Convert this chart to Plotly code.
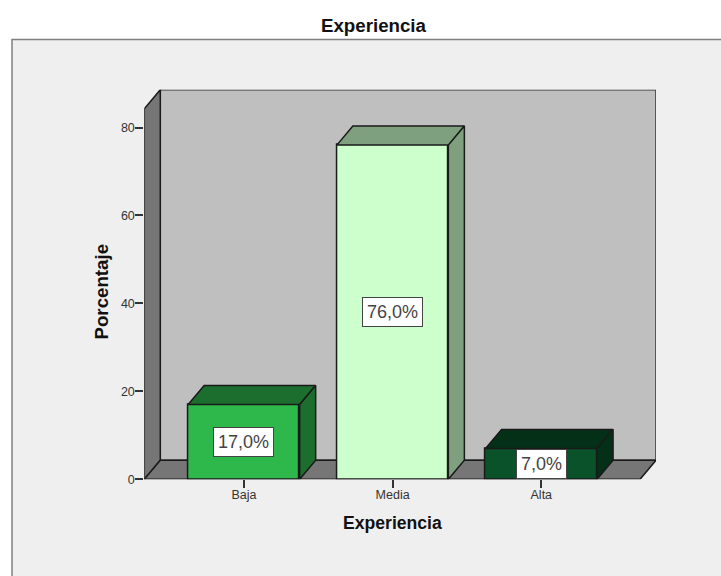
import plotly.graph_objects as go

categories = ["Baja", "Media", "Alta"]
percentages = [17.0, 76.0, 7.0]
value_labels = ["17,0%", "76,0%", "7,0%"]
y_ticks = [0, 20, 40, 60, 80]

front_colors = ["#2EB84C", "#CCFFCC", "#0A5229"]
shade_colors = ["#1B6E2D", "#7FA07F", "#053018"]
LINE = "#1a1a1a"
W = 721
H = 576
DRAW_H = 568          # height of the drawing area actually used

def fx(p):
    return p / W

def fy(p):
    return 1 - p / DRAW_H

# pixel geometry of the plot box
PX0, PX1, PY0, PY1 = 144.3, 656.0, 478.5, 89.5
CAT_SPACING = 148.7
PX_PER_UNIT = 4.39
DX = 16 / CAT_SPACING      # depth in category units
DY = 19 / PX_PER_UNIT      # depth in value units
BAR = 0.75
XMIN = (PX0 - 243.9) / CAT_SPACING
XFRONT = XMIN + (640 - PX0) / CAT_SPACING
XMAX = XFRONT + DX
YTOP = (PY0 - PY1) / PX_PER_UNIT
YFRONT = YTOP - DY
xs = list(range(len(categories)))

fig = go.Figure()

# bar front faces
fig.add_trace(go.Bar(
    x=xs, y=percentages, width=BAR,
    marker=dict(color=front_colors, line=dict(color=LINE, width=1.5)),
    hoverinfo="skip", showlegend=False,
))

# bar top and side faces
for x, v, c in zip(xs, percentages, shade_colors):
    l, r = x - BAR / 2, x + BAR / 2
    fig.add_trace(go.Scatter(
        x=[l, l + DX, r + DX, r, l], y=[v, v + DY, v + DY, v, v],
        mode="lines", fill="toself", fillcolor=c, line=dict(color=LINE, width=1.5),
        hoverinfo="skip", showlegend=False,
    ))
    fig.add_trace(go.Scatter(
        x=[r, r + DX, r + DX, r, r], y=[v, v + DY, DY, 0, v],
        mode="lines", fill="toself", fillcolor=c, line=dict(color=LINE, width=1.5),
        hoverinfo="skip", showlegend=False,
    ))

shapes = [
    # chart panel
    dict(type="rect", xref="paper", yref="paper", x0=fx(12), x1=1.02, y0=-0.03, y1=fy(39.5),
         fillcolor="#EFEFEF", line=dict(color="#808080", width=1.5), layer="below"),
    # back wall
    dict(type="rect", xref="x", yref="y", x0=XMIN + DX, x1=XMAX, y0=DY, y1=YTOP,
         fillcolor="#BFBFBF", line=dict(color="#333333", width=1.5), layer="below"),
    # side wall
    dict(type="path", xref="x", yref="y",
         path=f"M {XMIN} 0 L {XMIN} {YFRONT} L {XMIN + DX} {YTOP} L {XMIN + DX} {DY} Z",
         fillcolor="#767676", line=dict(color=LINE, width=1.5), layer="below"),
    # floor
    dict(type="path", xref="x", yref="y",
         path=f"M {XMIN} 0 L {XFRONT} 0 L {XMAX} {DY} L {XMIN + DX} {DY} Z",
         fillcolor="#767676", line=dict(color=LINE, width=1.5), layer="below"),
]

annotations = [
    dict(x=x, y=v / 2, xref="x", yref="y", text=t, showarrow=False,
         xanchor="center", yanchor="middle",
         font=dict(family="Liberation Sans", size=18, color="#444444"),
         bgcolor="white", bordercolor="#444444", borderwidth=1, borderpad=4)
    for x, v, t in zip(xs, percentages, value_labels)
]
annotations.extend([
    dict(x=fx(374), y=fy(25.5), xref="paper", yref="paper", text="<b>Experiencia</b>",
         showarrow=False, xanchor="center", yanchor="middle",
         font=dict(family="Liberation Sans", size=18.7, color="#111111")),
    dict(x=fx(392.5), y=fy(522), xref="paper", yref="paper", text="<b>Experiencia</b>",
         showarrow=False, xanchor="center", yanchor="middle",
         font=dict(family="Liberation Sans", size=17.6, color="#111111")),
    dict(x=fx(102), y=fy(291), xref="paper", yref="paper", text="<b>Porcentaje</b>",
         textangle=-90, showarrow=False, xanchor="center", yanchor="middle",
         font=dict(family="Liberation Sans", size=18.7, color="#111111")),
])

fig.update_layout(
    width=W, height=H, autosize=False,
    margin=dict(l=0, r=0, t=0, b=0),
    paper_bgcolor="white", plot_bgcolor="rgba(0,0,0,0)",
    bargap=0, shapes=shapes, annotations=annotations,
    xaxis=dict(domain=[fx(PX0), fx(PX1)], range=[XMIN, XMAX], tickmode="array",
               tickvals=xs, ticktext=categories, ticks="outside", ticklen=8,
               tickcolor="#333333", tickwidth=1.5, showgrid=False, zeroline=False,
               showline=False, anchor="y", ticklabelstandoff=-4,
               tickfont=dict(family="Liberation Sans", size=12.5, color="#333333")),
    yaxis=dict(domain=[fy(PY0), fy(PY1)], range=[0, YTOP], tickmode="array",
               tickvals=y_ticks, ticks="outside", ticklen=8, tickcolor="#333333",
               tickwidth=1.5, showgrid=False, zeroline=False, showline=False,
               anchor="x", ticklabelstandoff=-2,
               tickfont=dict(family="Liberation Sans", size=12.5, color="#333333")),
)

fig.write_html("out.html", config={"displayModeBar": False},
               post_script="document.body.style.margin='0';")
